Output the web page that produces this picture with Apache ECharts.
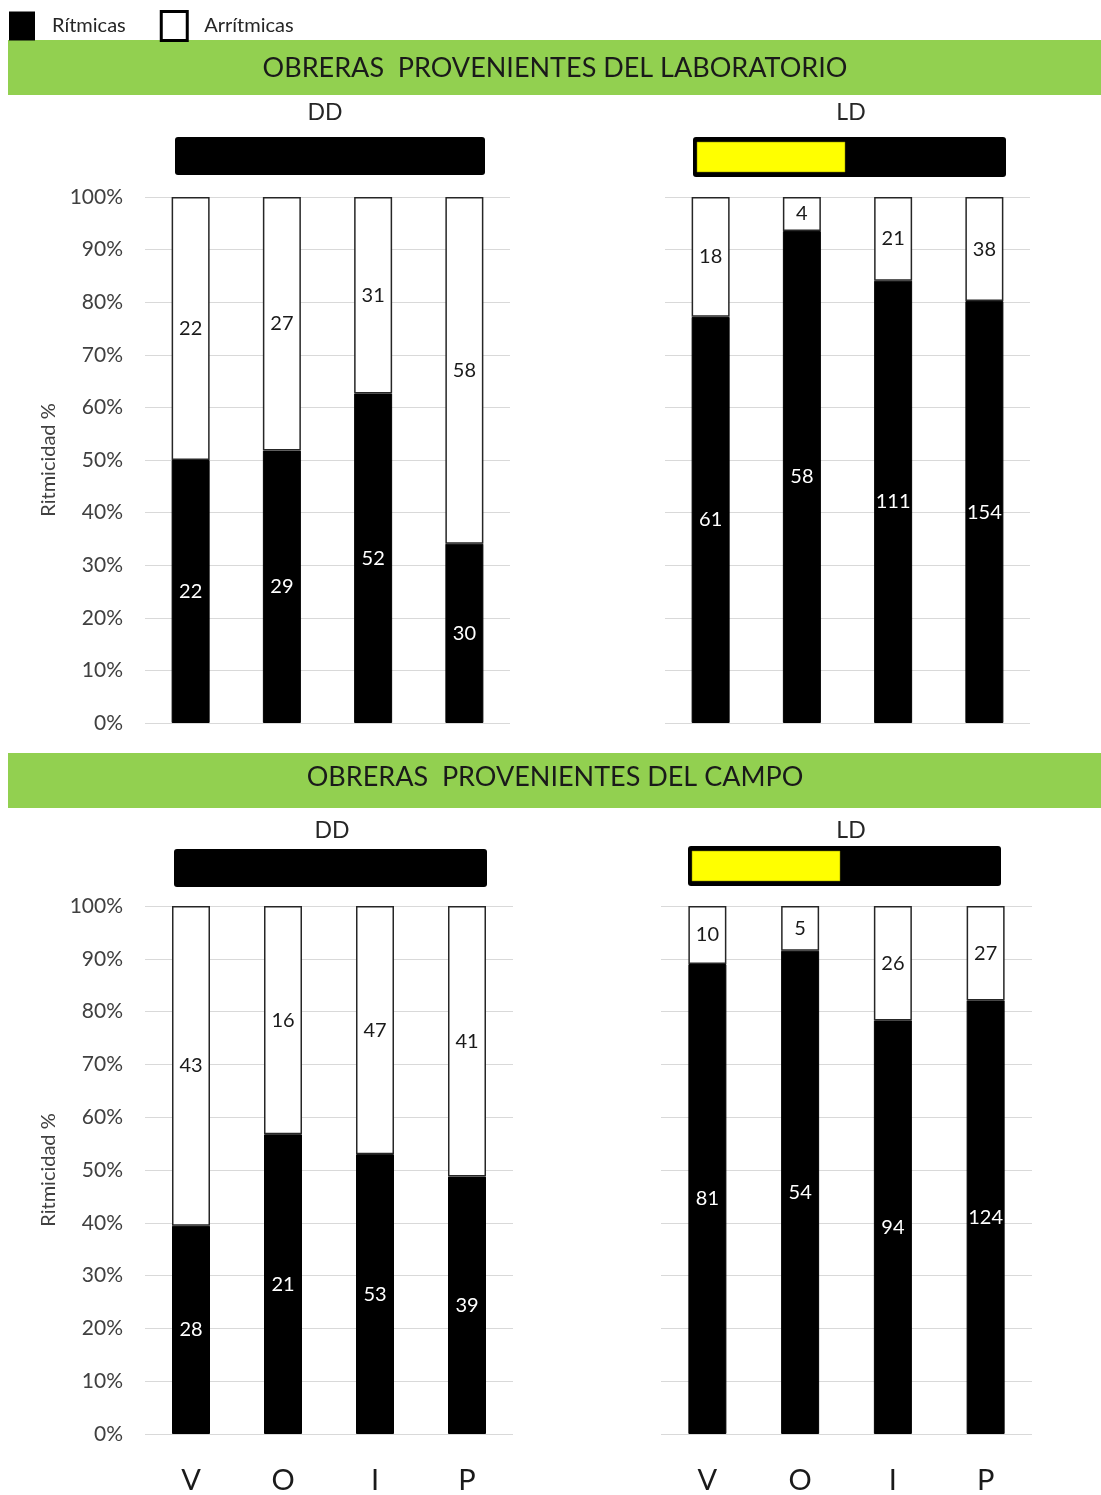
<!DOCTYPE html>
<html>
<head>
<meta charset="utf-8">
<script src="https://cdn.jsdelivr.net/npm/echarts@6/dist/echarts.min.js"></script>
<style>
  html, body { margin: 0; padding: 0; background: #fff; }
  #chart { width: 1101px; height: 1495px; }
</style>
</head>
<body>
<div id="chart"></div>
<script>
// Castes (Vagas, Obreras, Intermedias, Pecoreadoras)
const categories = ['V', 'O', 'I', 'P'];

// Counts of rhythmic / arrhythmic workers per panel
const labDDRitmicas = [22, 29, 52, 30];
const labDDArritmicas = [22, 27, 31, 58];
const labLDRitmicas = [61, 58, 111, 154];
const labLDArritmicas = [18, 4, 21, 38];
const campoDDRitmicas = [28, 21, 53, 39];
const campoDDArritmicas = [43, 16, 47, 41];
const campoLDRitmicas = [81, 54, 94, 124];
const campoLDArritmicas = [10, 5, 26, 27];

const yTicks = [0, 10, 20, 30, 40, 50, 60, 70, 80, 90, 100];

const FONT = 'Lato, "Open Sans", sans-serif';

// share of each segment within its column (100% stacked)
function pct(part, other) {
  return part.map((v, i) => ({ value: v / (v + other[i]) * 100, count: v }));
}

const grids = [
  { left: 145, top: 197, width: 365, height: 526 },
  { left: 665, top: 197, width: 365, height: 526 },
  { left: 145, top: 906, width: 368, height: 528 },
  { left: 661, top: 906, width: 371, height: 530 }
];

const panels = [
  [labDDRitmicas, labDDArritmicas],
  [labLDRitmicas, labLDArritmicas],
  [campoDDRitmicas, campoDDArritmicas],
  [campoLDRitmicas, campoLDArritmicas]
];

const xAxes = grids.map((g, i) => ({
  type: 'category',
  gridIndex: i,
  data: categories,
  axisLine: { show: false },
  axisTick: { show: false },
  axisLabel: {
    show: i >= 2,
    margin: 32,
    fontFamily: FONT,
    fontSize: 29,
    color: '#1a1a1a'
  }
}));

const yAxes = grids.map((g, i) => ({
  type: 'value',
  gridIndex: i,
  min: 0,
  max: 100,
  interval: 10,
  axisLine: { show: false },
  axisTick: { show: false },
  splitLine: { show: true, lineStyle: { color: '#d9d9d9', width: 1 } },
  axisLabel: {
    show: i % 2 === 0,
    formatter: v => yTicks.includes(v) ? v + '%' : '',
    margin: 22,
    fontFamily: FONT,
    fontSize: 21,
    color: '#404040'
  },
  name: i % 2 === 0 ? 'Ritmicidad %' : '',
  nameLocation: 'middle',
  nameRotate: 90,
  nameGap: 86,
  nameTextStyle: { fontFamily: FONT, fontSize: 20, color: '#404040' }
}));

const series = [];
panels.forEach(([rit, arr], i) => {
  series.push({
    name: 'Rítmicas',
    type: 'bar',
    stack: 'p' + i,
    xAxisIndex: i,
    yAxisIndex: i,
    barWidth: 38,
    data: pct(rit, arr),
    itemStyle: { color: '#000', borderColor: '#000', borderWidth: 1 },
    label: {
      show: true,
      position: 'inside',
      formatter: p => p.data.count,
      fontFamily: FONT,
      fontSize: 20,
      color: '#fff'
    }
  });
  series.push({
    name: 'Arrítmicas',
    type: 'bar',
    stack: 'p' + i,
    xAxisIndex: i,
    yAxisIndex: i,
    barWidth: 38,
    data: pct(arr, rit),
    itemStyle: { color: '#fff', borderColor: '#262626', borderWidth: 1.5 },
    label: {
      show: true,
      position: 'inside',
      formatter: p => p.data.count,
      fontFamily: FONT,
      fontSize: 20,
      color: '#1a1a1a'
    }
  });
});

// banners, light-regime bars and panel titles
const graphic = [
  { type: 'rect', shape: { x: 8, y: 40, width: 1093, height: 55 }, style: { fill: '#92D050' } },
  { type: 'text', x: 555, y: 68, style: { text: 'OBRERAS  PROVENIENTES DEL LABORATORIO', font: '27px ' + FONT, fill: '#1a1a1a', textAlign: 'center', textVerticalAlign: 'middle' } },
  { type: 'rect', shape: { x: 8, y: 753, width: 1093, height: 55 }, style: { fill: '#92D050' } },
  { type: 'text', x: 555, y: 777, style: { text: 'OBRERAS  PROVENIENTES DEL CAMPO', font: '27px ' + FONT, fill: '#1a1a1a', textAlign: 'center', textVerticalAlign: 'middle' } },

  { type: 'text', x: 325, y: 113, style: { text: 'DD', font: '23px ' + FONT, fill: '#262626', textAlign: 'center', textVerticalAlign: 'middle' } },
  { type: 'text', x: 851, y: 113, style: { text: 'LD', font: '23px ' + FONT, fill: '#262626', textAlign: 'center', textVerticalAlign: 'middle' } },
  { type: 'text', x: 332, y: 831, style: { text: 'DD', font: '23px ' + FONT, fill: '#262626', textAlign: 'center', textVerticalAlign: 'middle' } },
  { type: 'text', x: 851, y: 831, style: { text: 'LD', font: '23px ' + FONT, fill: '#262626', textAlign: 'center', textVerticalAlign: 'middle' } },

  { type: 'rect', shape: { x: 175, y: 137, width: 310, height: 38, r: 3 }, style: { fill: '#000' } },
  { type: 'rect', shape: { x: 693, y: 137, width: 313, height: 40, r: 3 }, style: { fill: '#000' } },
  { type: 'rect', shape: { x: 697, y: 142, width: 148, height: 30 }, style: { fill: '#FFFF00', stroke: '#7f7f00', lineWidth: 0.5 } },
  { type: 'rect', shape: { x: 174, y: 849, width: 313, height: 38, r: 3 }, style: { fill: '#000' } },
  { type: 'rect', shape: { x: 688, y: 846, width: 313, height: 40, r: 3 }, style: { fill: '#000' } },
  { type: 'rect', shape: { x: 692, y: 851, width: 148, height: 30 }, style: { fill: '#FFFF00', stroke: '#7f7f00', lineWidth: 0.5 } }
];

const chart = echarts.init(document.getElementById('chart'), null, { renderer: 'canvas' });
chart.setOption({
  animation: false,
  backgroundColor: '#fff',
  legend: {
    left: 9,
    top: 10,
    padding: 0,
    itemWidth: 26,
    itemHeight: 29,
    itemGap: 34,
    icon: 'rect',
    selectedMode: false,
    textStyle: { fontFamily: FONT, fontSize: 20, color: '#262626', padding: [0, 0, 0, 12] },
    data: [
      { name: 'Rítmicas', itemStyle: { color: '#000', borderColor: '#000', borderWidth: 0 } },
      { name: 'Arrítmicas', itemStyle: { color: '#fff', borderColor: '#000', borderWidth: 3 } }
    ]
  },
  grid: grids,
  xAxis: xAxes,
  yAxis: yAxes,
  series: series,
  graphic: graphic
});
</script>
</body>
</html>
